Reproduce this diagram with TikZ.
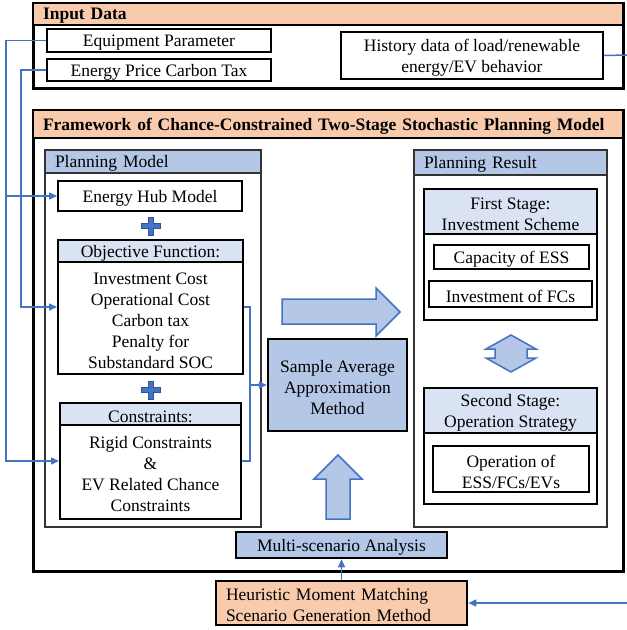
\documentclass[tikz,border=0pt]{standalone}
\usepackage{fontspec}
\setmainfont{Liberation Serif}
\usetikzlibrary{arrows.meta}
\definecolor{peach}{HTML}{F8CBAD}
\definecolor{lblue}{HTML}{B4C7E7}
\definecolor{pblue}{HTML}{DAE3F3}
\definecolor{lnblue}{HTML}{4472C4}
\definecolor{dkblue}{HTML}{2F5597}
\newcommand\bx[7]{%
 \pgfmathsetmacro\bxcx{(#2+#4)/2}\pgfmathsetmacro\bxcy{(#3+#5)/2}%
 \pgfmathsetmacro\bxww{#4-#2}\pgfmathsetmacro\bxhh{#5-#3}%
 \node[#6, minimum width=\bxww pt, minimum height=\bxhh pt, inner sep=0pt] (#1) at (\bxcx,\bxcy) {};
 \node[txt, align=center] (#1-t) at ([yshift=-2.5pt]#1.center) {#7};}
\newcommand\hbx[7]{%
 \pgfmathsetmacro\bxcx{(#2+#4)/2}\pgfmathsetmacro\bxcy{(#3+#5)/2}%
 \pgfmathsetmacro\bxww{#4-#2}\pgfmathsetmacro\bxhh{#5-#3}\pgfmathsetmacro\bxtw{#4-#2-20}%
 \node[#6, minimum width=\bxww pt, minimum height=\bxhh pt, inner sep=0pt] (#1) at (\bxcx,\bxcy) {};
 \node[txt, text width=\bxtw pt, align=left] (#1-t) at ([yshift=-2pt]#1.center) {#7};}
\begin{document}
\begin{tikzpicture}[x=1pt,y=-1pt,
  txt/.style={inner sep=0pt, font=\fontsize{17.5}{21}\selectfont},
  outerbox/.style={draw=black, line width=3pt, fill=white},
  innerbox/.style={draw=black, line width=2pt, fill=white},
  grpbox/.style={draw=black!80, line width=1.6pt, fill=white},
  orangehd/.style={draw=black, line width=2.5pt, fill=peach},
  bluehd/.style={draw=black!80, line width=1.6pt, fill=lblue},
  palehd/.style={draw=black, line width=2pt, fill=pblue},
  bluebox/.style={draw=black, line width=2.5pt, fill=lblue},
  conn/.style={draw=lnblue, line width=1.5pt},
  arr/.style={conn, -{Triangle[length=8pt,width=7pt]}},
  bigarrow/.style={draw=lnblue, line width=1.5pt, fill=lblue, line join=miter},
  plussign/.style={draw=dkblue, line width=1pt, fill=lnblue}]
\useasboundingbox (0,0) rectangle (627,630);

% Input data
\bx{inp}{33}{3}{623}{88}{outerbox}{}
\hbx{inph}{33}{3}{623}{25}{orangehd}{\textbf{Input Data}}
\bx{ep}{47}{29}{271}{52}{innerbox}{Equipment Parameter}
\bx{epc}{47}{59}{271}{81}{innerbox}{Energy Price Carbon Tax}
\bx{hist}{341}{32}{603}{79}{innerbox}{History data of load/renewable\\energy/EV behavior}

% Framework
\bx{fw}{33}{110}{623}{571}{outerbox}{}
\hbx{fwh}{33}{110}{623}{138}{orangehd}{\textbf{Framework of Chance-Constrained Two-Stage Stochastic Planning Model}}

% Planning model
\bx{pm}{45}{150}{261}{527}{grpbox}{}
\hbx{pmh}{45}{150}{261}{173}{bluehd}{Planning Model}
\bx{ehm}{58}{181}{242}{211}{innerbox}{Energy Hub Model}
\bx{obj}{58}{240}{243}{374}{innerbox}{}
\bx{objh}{58}{240}{243}{262}{palehd}{Objective Function:}
\bx{objb}{58}{262}{243}{374}{innerbox}{Investment Cost\\Operational Cost\\Carbon tax\\Penalty for\\Substandard SOC}
\bx{con}{60}{403}{241}{519}{innerbox}{}
\bx{conh}{60}{403}{241}{425}{palehd}{Constraints:}
\bx{conb}{60}{425}{241}{519}{innerbox}{Rigid Constraints\\\&\\EV Related Chance\\Constraints}

% plus signs
\foreach \px/\py in {151/226, 151/390}{
  \draw[plussign] (\px-2.5,\py-9) -- (\px+2.5,\py-9) -- (\px+2.5,\py-2.5) -- (\px+9.5,\py-2.5) -- (\px+9.5,\py+2.5) -- (\px+2.5,\py+2.5) -- (\px+2.5,\py+9) -- (\px-2.5,\py+9) -- (\px-2.5,\py+2.5) -- (\px-9.5,\py+2.5) -- (\px-9.5,\py-2.5) -- (\px-2.5,\py-2.5) -- cycle;
}

% SAA
\bx{saa}{268}{339}{407}{431}{bluebox}{Sample Average\\Approximation\\Method}

% big arrows
\draw[bigarrow] (282,299) -- (376,299) -- (376,288) -- (400,312) -- (376,336) -- (376,324) -- (282,324) -- cycle;
\draw[bigarrow] (326,519) -- (326,479) -- (314,479) -- (338,455) -- (362,479) -- (350,479) -- (350,519) -- cycle;

% Planning result
\bx{pr}{414}{150}{607}{527}{grpbox}{}
\hbx{prh}{414}{150}{607}{175}{bluehd}{Planning Result}
\bx{fs}{424}{189}{597}{320}{innerbox}{}
\bx{fsh}{424}{189}{597}{234}{palehd}{First Stage:\\Investment Scheme}
\bx{cap}{434}{245}{589}{269}{innerbox}{Capacity of ESS}
\bx{inv}{429}{281}{592}{307}{innerbox}{Investment of FCs}
\bx{ss}{424}{388}{597}{504}{innerbox}{}
\bx{ssh}{424}{388}{597}{433}{palehd}{Second Stage:\\Operation Strategy}
\bx{op}{433}{446}{589}{492}{innerbox}{Operation of\\ESS/FCs/EVs}
\draw[bigarrow] (511,335) -- (536,349) -- (527,349) -- (527,358) -- (536,358) -- (511,372) -- (486,358) -- (495,358) -- (495,349) -- (486,349) -- cycle;

% Multi-scenario and heuristic
\bx{multi}{236}{532}{447}{558}{bluebox}{Multi-scenario Analysis}
\hbx{heur}{216}{581}{467}{625}{orangehd}{Heuristic Moment Matching\\Scenario Generation Method}

% connectors
\coordinate (jl) at (6,196);
\coordinate (jr) at (250,385);
\coordinate (hx) at (627,55);
\coordinate (hy) at (627,603);
\draw[conn] (ep.west) -| (jl);
\draw[arr] (jl) -- (ehm.west);
\draw[arr] (jl) |- (con.west);
\draw[arr] (epc.west) -| (21,307) -- (obj.west);
\draw[conn] (obj.east) -| (jr);
\draw[conn] (con.east) -| (jr);
\draw[arr] (jr) -- (saa.west);
\draw[conn] (hist.east) -- (hx);
\draw[arr] (hy) -- (heur.east);
\draw[arr] (heur.north) -- (multi.south);
\end{tikzpicture}
\end{document}
